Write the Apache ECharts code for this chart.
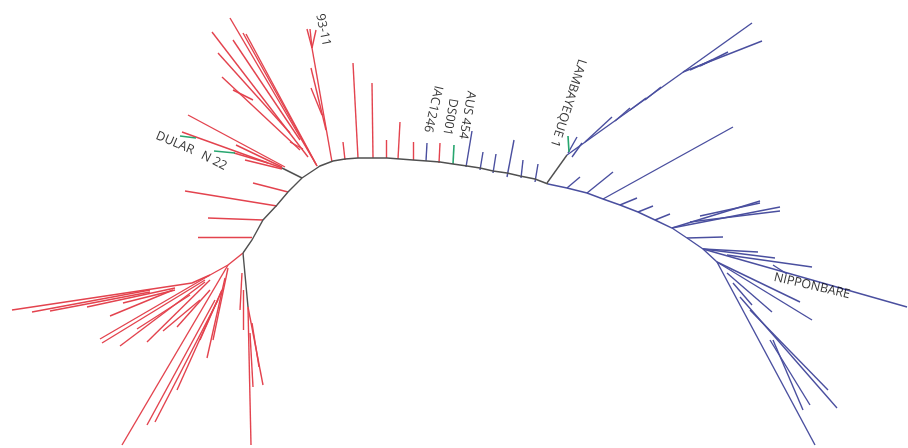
<!DOCTYPE html>
<html>
<head>
<meta charset="utf-8">
<script src="https://cdn.jsdelivr.net/npm/echarts@6/dist/echarts.min.js"></script>
<style>
  html, body { margin: 0; padding: 0; background: #fff; }
  #chart { width: 908px; height: 448px; }
</style>
</head>
<body>
<div id="chart"></div>
<script>
// Tree layout, in picture units (x right, y down).
// Backbone: the dark internal path, then the blue part of it.
const backboneGrey = [[243,253],[252,240],[263,220],[277,205],[288,192],[302,178],[317,168],
  [320,166],[333,161],[345,159],[358,158],[372,158],[387,158],[400,159],[413,160],[427,161],
  [440,162],[453,164],[467,166],[480,168],[493,171],[507,173],[520,176],[535,179],[548,184]];
const backboneBlue = [[548,184],[567,188],[587,193],[603,199],[620,205],[638,212],[655,220],
  [672,228],[687,238],[703,249],[717,262]];

// Branches as [x1, y1, x2, y2]
const greyBranches = [[302,178,282,168],[547,183,567,155],[243,253,248,307]];

const redBranches = [
  // off the left arc
  [253,183,288,192],[185,191,277,206],[208,218,263,220],[198,237,252,237],
  // DULAR / N 22 clade
  [182,132,282,168],[188,115,285,167],[236,145,282,167],[245,160,282,169],[234,153,268,163],
  // upper-left fan
  [230,18,317,166],[212,32,308,157],[243,33,317,166],[246,34,316,164],[233,40,300,140],
  [218,53,290,133],[222,77,300,150],[233,90,253,100],[290,142,303,149],
  // 93-11
  [307,29,312,48],[310,29,312,48],[316,30,312,48],[312,48,332,162],[311,68,326,130],[311,88,322,115],
  // short ones on top
  [343,142,345,160],[353,63,358,158],[372,83,373,158],[386,140,386,158],[400,122,398,159],
  [413,142,413,160],[440,143,439,163],
  // lower-left clade
  [243,253,228,265],[228,265,210,275],[210,275,192,283],
  [12,310,192,283],[32,312,150,290],[50,311,150,292],[87,307,175,288],[123,303,175,290],[110,316,173,290],
  [100,339,210,275],[102,343,205,280],[120,346,205,282],[137,329,190,295],[147,342,210,280],
  [163,331,200,300],[177,327,210,290],
  [122,445,228,265],[147,425,215,300],[155,422,218,300],[177,390,222,290],[207,358,225,278],
  [213,340,228,268],[200,340,222,290],
  [242,273,240,310],[243,290,243,330],[248,307,251,445],[248,307,263,385],[250,333,253,387],[252,323,259,367]
];

const blueBranches = [
  // short ones on top
  [427,143,426,161],[472,131,466,167],[483,152,480,170],[496,154,493,173],[514,140,507,177],
  [523,160,521,178],[538,164,535,182],
  // LAMBAYEQUE 1 clade
  [577,137,568,153],[582,143,572,157],[567,155,752,23],[762,41,683,72],[728,52,700,66],[712,60,690,70],
  [585,142,612,117],[615,121,630,108],[630,110,646,98],[645,100,661,87],
  // second long branch and ticks
  [603,199,733,127],[567,188,580,177],[587,193,613,172],[620,205,637,198],[638,212,653,206],[655,220,670,214],
  // small fan
  [672,228,760,201],[672,228,780,207],[690,222,780,211],[700,216,760,203],
  [687,238,723,237],
  // NIPPONBARE clade
  [703,249,758,252],[703,249,775,258],[727,255,812,267],[703,249,907,307],[773,265,787,274],
  // lower clade
  [717,262,800,302],[717,262,812,320],[727,273,772,312],[733,283,752,305],[717,262,815,445],
  [740,297,837,408],[750,310,828,390],[770,340,810,405],[773,340,803,410]
];

const greenBranches = [[180,136,196,138],[214,151,235,153],[454,145,453,164],[568,136,569,152]];

// Tip labels
const labelNames = ['93-11', 'IAC1246', 'DS001', 'AUS 454', 'LAMBAYEQUE 1', 'DULAR', 'N 22', 'NIPPONBARE'];
const labelPoints = [[323,30],[433,109],[450,117],[467,115],[568,103],[175,143],[214,161],[812,286]];
const labelAngles = [-78, -103, -100, -100, -108, -23, -27, -13];

const toLines = segs => segs.map(s => ({ coords: [[s[0], s[1]], [s[2], s[3]]] }));

function branchSeries(segs, color, width) {
  return {
    type: 'lines',
    coordinateSystem: 'cartesian2d',
    silent: true,
    lineStyle: { color: color, width: width, opacity: 1 },
    data: toLines(segs)
  };
}

const chart = echarts.init(document.getElementById('chart'));

chart.setOption({
  backgroundColor: '#ffffff',
  animation: false,
  grid: { left: 0, right: 0, top: 0, bottom: 0 },
  xAxis: { type: 'value', min: 0, max: 908, show: false },
  yAxis: { type: 'value', min: 0, max: 448, inverse: true, show: false },
  series: [
    branchSeries(redBranches, '#e3434e', 1.4),
    branchSeries(blueBranches, '#4a4f9f', 1.4),
    branchSeries(greenBranches, '#27a66f', 1.6),
    branchSeries(greyBranches, '#505050', 1.4),
    {
      type: 'lines',
      coordinateSystem: 'cartesian2d',
      polyline: true,
      silent: true,
      lineStyle: { color: '#505050', width: 1.4, opacity: 1 },
      data: [{ coords: backboneGrey }]
    },
    {
      type: 'lines',
      coordinateSystem: 'cartesian2d',
      polyline: true,
      silent: true,
      lineStyle: { color: '#4a4f9f', width: 1.4, opacity: 1 },
      data: [{ coords: backboneBlue }]
    },
    {
      type: 'scatter',
      symbolSize: 0,
      silent: true,
      label: {
        show: true,
        position: 'inside',
        formatter: '{b}',
        color: '#000',
        fontFamily: 'Open Sans, sans-serif',
        fontSize: 12.5,
        align: 'center',
        verticalAlign: 'middle'
      },
      data: labelNames.map((name, i) => ({
        name: name,
        value: labelPoints[i],
        label: { rotate: labelAngles[i] }
      }))
    }
  ]
});
</script>
</body>
</html>
